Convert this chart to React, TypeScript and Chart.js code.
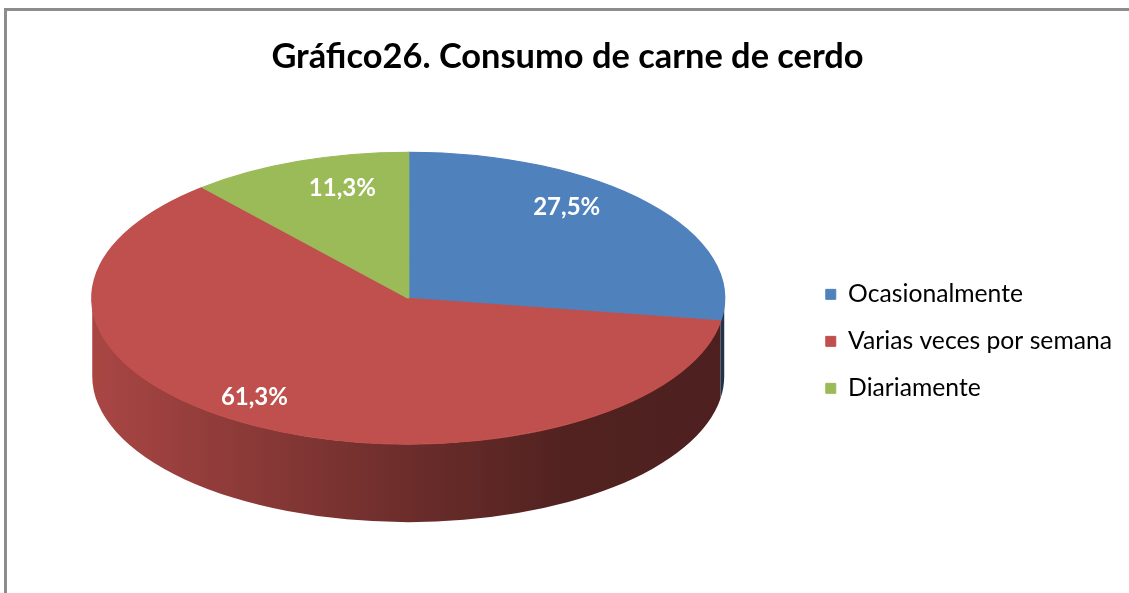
import React, { useEffect, useRef } from 'react';
import { Chart, registerables } from 'chart.js';

Chart.register(...registerables);

// ---- data ----
const categories = ['Ocasionalmente', 'Varias veces por semana', 'Diariamente'];
const values = [27.5, 61.3, 11.3];
const sliceColors = ['#4F81BD', '#C0504D', '#9BBB59'];
const chartTitle = 'Gráfico26. Consumo de carne de cerdo';

// ---- style / layout ----
const FONT = 'Lato';
const RADIUS_Y = 146;
const STRETCH_X = 316 / 146;
const DEPTH = 78;
const LABEL_RADIUS = [0.66, 1.0, 0.6];
const LABEL_LIFT = 28;

function hexToRgb(h: string): number[] {
  const s = h.replace('#', '');
  return [0, 2, 4].map((i) => parseInt(s.slice(i, i + 2), 16));
}

function fmt(v: number): string {
  return v.toFixed(1).replace('.', ',') + '%';
}

const pie3d = {
  id: 'pie3d',
  beforeDatasetsDraw(chart: any) {
    const meta = chart.getDatasetMeta(0);
    const arcs = meta.data as any[];
    chart.$pieSaved = false;
    if (!arcs.length) return;
    const ctx = chart.ctx as CanvasRenderingContext2D;
    const { x: cx, y: cy, outerRadius: r } = arcs[0];
    const rx = r * STRETCH_X;
    const ry = r;
    ctx.save();
    arcs.forEach((arc: any, i: number) => {
      const lo = Math.max(arc.startAngle, 0);
      const hi = Math.min(arc.endAngle, Math.PI);
      if (hi <= lo) return;
      const [R, G, B] = hexToRgb(sliceColors[i]);
      const g = ctx.createLinearGradient(cx - rx, 0, cx + rx, 0);
      const stops = [
        [0, 0.88],
        [0.5, 0.56],
        [0.75, 0.42],
        [1, 0.4],
      ];
      stops.forEach(([p, k]) =>
        g.addColorStop(p, `rgb(${Math.round(R * k)},${Math.round(G * k)},${Math.round(B * k)})`)
      );
      ctx.beginPath();
      ctx.ellipse(cx, cy, rx, ry, 0, lo, hi);
      ctx.ellipse(cx, cy + DEPTH, rx, ry, 0, hi, lo, true);
      ctx.closePath();
      ctx.fillStyle = g;
      ctx.fill();
    });
    ctx.restore();
    ctx.save();
    ctx.translate(cx, cy);
    ctx.scale(STRETCH_X, 1);
    ctx.translate(-cx, -cy);
    chart.$pieSaved = true;
  },
  afterDatasetsDraw(chart: any) {
    const ctx = chart.ctx as CanvasRenderingContext2D;
    if (chart.$pieSaved) ctx.restore();
    const arcs = chart.getDatasetMeta(0).data as any[];
    if (!arcs.length) return;
    const { x: cx, y: cy, outerRadius: r } = arcs[0];
    ctx.save();
    ctx.fillStyle = '#FFFFFF';
    ctx.font = `bold 24px ${FONT}`;
    ctx.textAlign = 'center';
    ctx.textBaseline = 'middle';
    arcs.forEach((arc: any, i: number) => {
      const mid = (arc.startAngle + arc.endAngle) / 2;
      const f = LABEL_RADIUS[i];
      const x = cx + Math.cos(mid) * r * STRETCH_X * f;
      const y = cy + Math.sin(mid) * r * f - LABEL_LIFT;
      ctx.fillText(fmt(values[i]), x, y);
    });
    ctx.restore();
  },
};

export default function App() {
  const ref = useRef<HTMLCanvasElement | null>(null);

  useEffect(() => {
    if (!ref.current) return;
    const chart = new Chart(ref.current, {
      type: 'pie',
      data: {
        labels: categories,
        datasets: [
          {
            data: values,
            backgroundColor: sliceColors,
            borderColor: sliceColors,
            borderWidth: 1,
            clip: false as any,
          } as any,
        ],
      },
      options: {
        responsive: false,
        animation: false,
        devicePixelRatio: 1,
        radius: RADIUS_Y,
        layout: { padding: { left: 13, right: 7, top: 0, bottom: 170 } },
        plugins: {
          title: {
            display: true,
            text: chartTitle,
            color: '#000000',
            font: { family: FONT, size: 34.4, weight: 'bold' },
            padding: { top: 36, bottom: 96 },
          },
          legend: {
            display: true,
            position: 'right',
            align: 'end',
            labels: {
              color: '#000000',
              font: { family: FONT, size: 24.7 },
              boxWidth: 10,
              boxHeight: 10,
              padding: 22.3,
            },
          },
          tooltip: { enabled: false },
        },
      } as any,
      plugins: [pie3d],
    });
    return () => chart.destroy();
  }, []);

  return (
    <div style={{ position: 'fixed', left: 0, top: 0, width: 1129, height: 593, overflow: 'hidden', background: '#FFFFFF' }}>
      <div
        style={{
          position: 'absolute',
          left: 4,
          top: 8,
          width: 1200,
          height: 700,
          borderLeft: '3px solid #8C8C8C',
          borderTop: '3px solid #8C8C8C',
          boxSizing: 'border-box',
        }}
      />
      <canvas
        ref={ref}
        width={1129}
        height={593}
        style={{ position: 'absolute', left: 0, top: 0, width: 1129, height: 593, display: 'block' }}
      />
    </div>
  );
}
